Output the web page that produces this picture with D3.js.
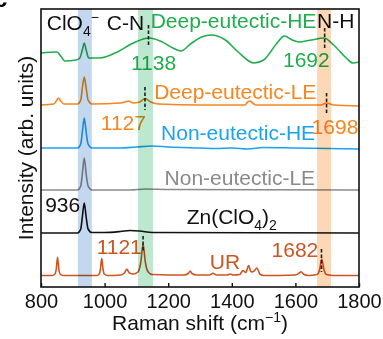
<!DOCTYPE html>
<html>
<head>
<meta charset="utf-8">
<script src="https://cdn.jsdelivr.net/npm/d3@7"></script>
<style>
  body { margin: 0; background: #fff; }
  text { font-family: Arial, "Liberation Sans", sans-serif; }
</style>
</head>
<body>
<script>
// wavenumber (cm-1), intensity (arb. units, stacked)
const deepHE = [[800,234],[850,235],[862,231],[875,226],[910,227],[922,229],[930,237],[936,244],[942,237],[950,229],[985,229],[1040,235],[1090,244],[1140,249],[1175,246],[1215,239],[1240,236],[1270,243],[1305,250],[1335,252],[1380,247],[1420,235],[1470,224],[1500,227],[1540,243],[1565,251],[1590,247],[1610,245],[1650,247],[1690,249],[1720,242],[1760,229],[1780,224],[1800,225]];
const deepLE = [[800,182],[840,183],[848,186],[855,189],[862,186],[872,183],[915,183],[925,187],[930,199],[936,210],[942,199],[948,187],[960,183],[1050,184],[1065,185],[1075,186],[1090,184],[1110,185],[1127,188.5],[1145,185],[1170,183],[1300,182],[1440,182],[1450,185],[1457,186],[1465,184],[1475,182],[1680,182],[1698,184],[1720,182],[1800,181]];
const nonHE = [[800,139],[915,139],[925,143],[930,155],[936,169],[942,155],[948,143],[960,139],[1050,139],[1100,140],[1150,141],[1200,140],[1300,139],[1350,138.5],[1400,139],[1450,138],[1500,139.5],[1600,139],[1700,138.5],[1800,138]];
const nonLE = [[800,97],[915,97],[925,101],[930,113],[936,129],[942,113],[948,101],[960,97],[1080,97],[1130,98],[1200,97.5],[1800,97]];
const znClO4 = [[800,54],[915,54],[925,58],[930,70],[936,84],[942,70],[948,58],[960,54.5],[1000,54.5],[1050,55.5],[1080,56.5],[1110,56],[1150,54.5],[1800,54]];
const urea = [[800,11.5],[835,11.5],[844,13],[848,18],[852,29.7],[856,18],[860,13],[870,11.5],[975,11.5],[983,13],[987,18],[991,28.7],[995,18],[999,13],[1010,11.5],[1050,12],[1062,14],[1070,17.7],[1078,14],[1090,13],[1105,15],[1114,25],[1121,43],[1128,25],[1137,15],[1150,12.5],[1250,12],[1263,13.5],[1269,16],[1275,13.5],[1290,12],[1330,12],[1341,13.7],[1352,12],[1385,12],[1395,13],[1405,12],[1425,12.5],[1435,16.5],[1444,14.5],[1453,21.5],[1459,16],[1464,15],[1470,16],[1479,19],[1488,13],[1500,11.5],[1600,12],[1612,14],[1618,15.3],[1625,13],[1640,11.5],[1668,12.5],[1676,17],[1683,28],[1690,17],[1698,12.5],[1720,11.5],[1800,11.5]];

const seriesNames = ["Deep-eutectic-HE", "Deep-eutectic-LE", "Non-eutectic-HE", "Non-eutectic-LE", "Zn(ClO4)2", "UR"];
const seriesData = [deepHE, deepLE, nonHE, nonLE, znClO4, urea];
const seriesColors = ["#1fae4b", "#f7861c", "#1aa3ef", "#8a8a8a", "#111111", "#cc5520"];

// highlighted bands [from, to] in cm-1
const bandRanges = [[916, 960], [1105, 1152], [1668, 1712]];
const bandColors = ["#c3d8ee", "#bde8cf", "#fcd8b6"];

// peak markers: wavenumber, intensity from, to
const markers = [[1138, 262, 240], [1127, 200, 177], [1692, 259, 237], [1698, 194, 172], [1121, 51, 35], [1682, 38, 15]];

const xTicks = [800, 1000, 1200, 1400, 1600, 1800];

const W = 383, H = 339;
const margin = {left: 41, right: 24, top: 9, bottom: 52};

const svg = d3.select("body").append("svg")
    .attr("width", W).attr("height", H);

const x = d3.scaleLinear().domain([800, 1800]).range([margin.left, W - margin.right]);
const y = d3.scaleLinear().domain([0, 278]).range([H - margin.bottom, margin.top]);

// panel letter, cut off at the corner
svg.append("text").attr("x", -6).attr("y", 7)
    .attr("font-size", 24).attr("font-weight", "bold").text("c");

const line = d3.line().x(d => x(d[0])).y(d => y(d[1])).curve(d3.curveMonotoneX);

svg.append("g")
    .selectAll("path")
    .data(seriesData)
    .join("path")
    .attr("fill", "none")
    .attr("stroke", (d, i) => seriesColors[i])
    .attr("stroke-width", 1.6)
    .attr("stroke-linejoin", "round")
    .attr("d", line);

svg.append("g")
    .attr("stroke", "#222")
    .attr("stroke-width", 1.6)
    .attr("stroke-dasharray", "3.5,2")
    .selectAll("line")
    .data(markers)
    .join("line")
    .attr("x1", d => x(d[0])).attr("x2", d => x(d[0]))
    .attr("y1", d => y(d[1])).attr("y2", d => y(d[2]));

// labels: [text parts, wavenumber, intensity, anchor, color]
const labels = [
    [[["ClO"], ["4", "sub"], ["\u2212", "sup"]], 818, 257, "start", "#111"],
    [[["C-N"]], 1007, 257, "start", "#111"],
    [[["Deep-eutectic-HE"]], 1666, 259, "end", seriesColors[0]],
    [[["N-H"]], 1668, 259, "start", "#111"],
    [[["1138"]], 1083, 217, "start", seriesColors[0]],
    [[["1692"]], 1561, 220, "start", seriesColors[0]],
    [[["Deep-eutectic-LE"]], 1666, 188, "end", seriesColors[1]],
    [[["1127"]], 988, 157.5, "start", seriesColors[1]],
    [[["1698"]], 1651, 153.5, "start", seriesColors[1]],
    [[["Non-eutectic-HE"]], 1662, 147, "end", seriesColors[2]],
    [[["Non-eutectic-LE"]], 1662, 102, "end", seriesColors[3]],
    [[["Zn(ClO"], ["4", "sub"], [")"], ["2", "sub"]], 1258, 63.5, "start", "#111"],
    [[["936"]], 813, 75.5, "start", "#111"],
    [[["1121"]], 975, 33.5, "start", seriesColors[5]],
    [[["UR"]], 1331, 18.5, "start", seriesColors[5]],
    [[["1682"]], 1525, 30.5, "start", seriesColors[5]]
];

labels.forEach(([parts, wx, wy, anchor, color]) => {
    const t = svg.append("text")
        .attr("x", x(wx)).attr("y", y(wy))
        .attr("text-anchor", anchor)
        .attr("font-size", 21)
        .attr("fill", color);
    let shift = 0;
    parts.forEach(([s, kind]) => {
        const target = kind === "sub" ? 6 : kind === "sup" ? -8 : 0;
        t.append("tspan")
            .attr("dy", target - shift)
            .attr("font-size", kind ? 14 : 21)
            .text(s);
        shift = target;
    });
});

// bands over everything, multiplied so text under them darkens
svg.append("g")
    .selectAll("rect")
    .data(bandRanges)
    .join("rect")
    .attr("x", d => x(d[0]))
    .attr("width", d => x(d[1]) - x(d[0]))
    .attr("y", margin.top)
    .attr("height", H - margin.bottom - margin.top)
    .attr("fill", (d, i) => bandColors[i])
    .style("mix-blend-mode", "multiply");

// frame
svg.append("rect")
    .attr("x", margin.left).attr("y", margin.top)
    .attr("width", W - margin.left - margin.right)
    .attr("height", H - margin.top - margin.bottom)
    .attr("fill", "none").attr("stroke", "#111").attr("stroke-width", 1.6);

const xAxis = svg.append("g")
    .attr("transform", `translate(0,${H - margin.bottom})`)
    .call(d3.axisBottom(x).tickValues(xTicks).tickFormat(d3.format("d"))
        .tickSizeInner(-4).tickSizeOuter(0).tickPadding(7));
xAxis.select(".domain").remove();
xAxis.selectAll("line").attr("stroke", "#111").attr("stroke-width", 1.4);
xAxis.selectAll("text").attr("font-size", 20).attr("fill", "#111")
    .style("font-family", "Arial, 'Liberation Sans', sans-serif");

const xt = svg.append("text")
    .attr("x", (margin.left + W - margin.right) / 2).attr("y", 330)
    .attr("text-anchor", "middle").attr("font-size", 21).attr("fill", "#111");
xt.append("tspan").text("Raman shift (cm");
xt.append("tspan").attr("dy", -8).attr("font-size", 14).text("\u22121");
xt.append("tspan").attr("dy", 8).text(")");

svg.append("text")
    .attr("transform", `translate(33,${(margin.top + H - margin.bottom) / 2}) rotate(-90)`)
    .attr("text-anchor", "middle").attr("font-size", 21).attr("fill", "#111")
    .text("Intensity (arb. units)");
</script>
</body>
</html>
